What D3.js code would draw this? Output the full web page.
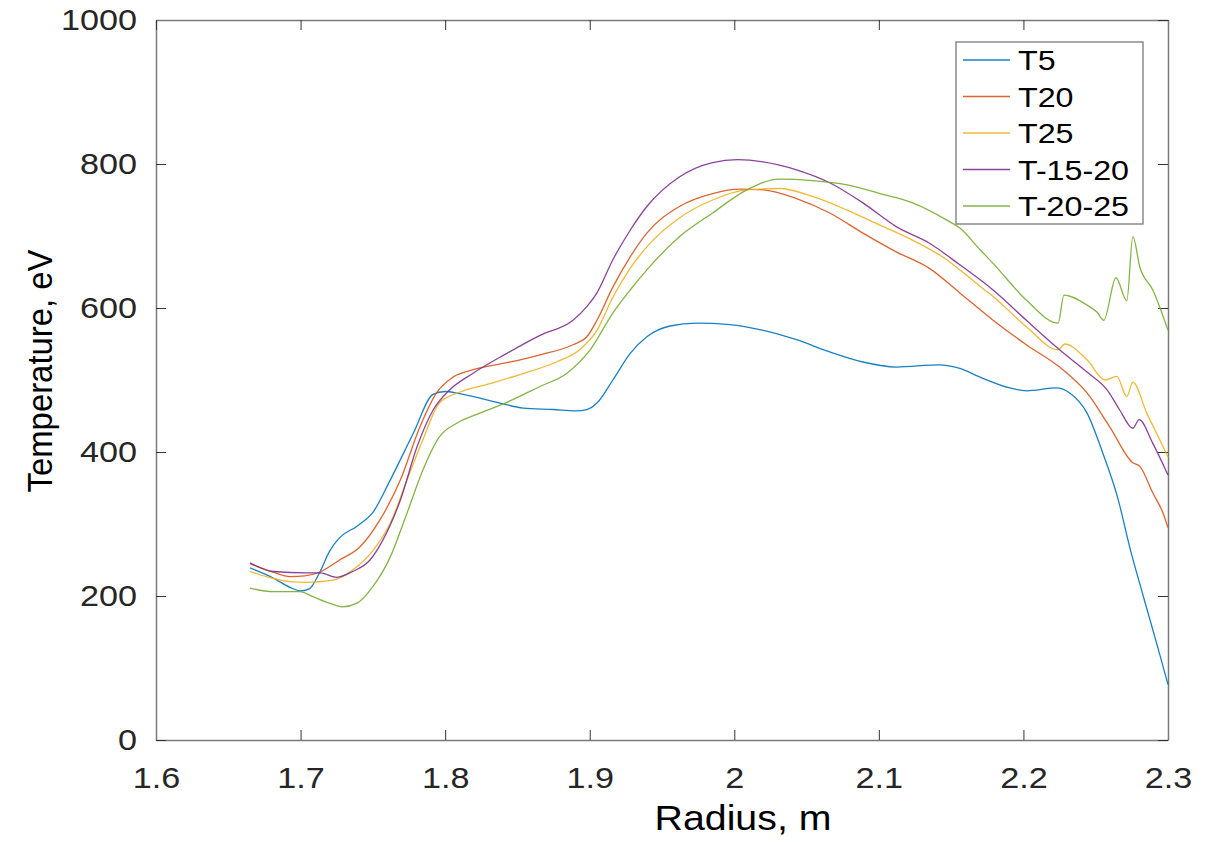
<!DOCTYPE html>
<html>
<head>
<meta charset="utf-8">
<script src="https://cdn.jsdelivr.net/npm/d3@7"></script>
<style>
  body { margin: 0; background: #fff; }
  svg { display: block; }
</style>
</head>
<body>
<div id="chart"></div>
<script>
// [radius (m), temperature (eV)]
var t5 = [[1.665,239],[1.681,225],[1.6927,212],[1.6996,207],[1.706,210],[1.713,232],[1.720,262],[1.727,281],
  [1.739,297],[1.750,316],[1.762,361],[1.778,426],[1.7916,480],[1.800,484],[1.810,481],[1.838,468],[1.854,461],
  [1.875,459],[1.890,457],[1.898,459],[1.905,468],[1.916,500],[1.928,537],[1.9395,560],[1.9555,575],[1.974,579],
  [1.997,577],[2.020,569],[2.043,556],[2.066,539],[2.089,525],[2.112,518],[2.142,521],[2.156,516],[2.170,504],
  [2.1906,489],[2.202,485],[2.223,489],[2.232,482],[2.244,454],[2.255,398],[2.265,338],[2.274,264],[2.283,199],
  [2.294,121],[2.300,77]];

var t20 = [[1.665,245],[1.681,233],[1.6927,227],[1.703,228],[1.713,233],[1.727,250],[1.741,268],[1.755,306],
  [1.769,361],[1.7826,435],[1.794,482],[1.8054,504],[1.819,514],[1.8427,524],[1.8656,535],[1.8884,549],[1.898,560],
  [1.905,583],[1.916,629],[1.928,671],[1.9395,704],[1.962,741],[1.985,759],[2.004,765],[2.020,764],[2.043,752],
  [2.066,732],[2.089,704],[2.112,678],[2.135,655],[2.156,621],[2.179,583],[2.202,549],[2.225,518],[2.244,482],
  [2.2597,435],[2.2757,385],[2.2805,380],[2.2895,343],[2.2966,315],[2.300,295]];

var t25 = [[1.665,234],[1.680,225],[1.693,220],[1.704,219],[1.7225,222],[1.736,236],[1.750,263],[1.762,301],
  [1.7736,361],[1.7846,417],[1.796,468],[1.810,483],[1.831,495],[1.854,509],[1.877,525],[1.893,542],[1.905,569],
  [1.916,615],[1.928,655],[1.9395,685],[1.962,725],[1.985,750],[2.0087,764],[2.0315,766],[2.054,755],[2.078,736],
  [2.1007,715],[2.1235,694],[2.147,667],[2.156,653],[2.170,630],[2.179,616],[2.202,574],[2.224,542],[2.2286,550],
  [2.244,528],[2.2565,500],[2.2646,505],[2.2715,477],[2.2757,497],[2.2853,454],[2.2943,417],[2.300,393]];

var t1520 = [[1.665,246],[1.681,234],[1.704,232],[1.7135,232],[1.725,226],[1.736,234],[1.748,250],[1.757,278],
  [1.769,333],[1.7805,407],[1.7916,458],[1.803,486],[1.819,509],[1.8427,537],[1.8656,562],[1.8884,583],[1.898,602],
  [1.905,621],[1.916,667],[1.928,708],[1.9395,741],[1.962,782],[1.985,802],[2.002,806],[2.020,803],[2.043,792],
  [2.066,774],[2.089,746],[2.112,713],[2.135,690],[2.156,660],[2.179,625],[2.202,583],[2.225,542],[2.244,511],
  [2.258,486],[2.2667,458],[2.2757,433],[2.280,445],[2.2895,412],[2.300,368]];

var t2025 = [[1.665,211],[1.681,206],[1.6996,206],[1.7086,199],[1.720,190],[1.729,185],[1.739,190],[1.750,213],
  [1.762,254],[1.7736,315],[1.7846,375],[1.796,421],[1.808,440],[1.824,454],[1.8427,469],[1.8656,491],[1.884,509],
  [1.900,541],[1.916,593],[1.928,625],[1.9395,653],[1.962,699],[1.985,732],[2.0087,764],[2.0315,779],[2.054,777],
  [2.078,771],[2.1007,759],[2.1235,746],[2.147,722],[2.156,711],[2.170,681],[2.179,662],[2.202,611],[2.224,579],
  [2.228,618],[2.244,604],[2.251,594],[2.2556,583],[2.264,642],[2.2715,610],[2.2757,699],[2.2805,657],[2.2895,625],
  [2.300,569]];

var seriesNames = ["T5", "T20", "T25", "T-15-20", "T-20-25"];
var seriesData = [t5, t20, t25, t1520, t2025];
var seriesColors = ["#0072BD", "#D95319", "#EDB120", "#7E2F8E", "#77AC30"];

var xTicks = [1.6, 1.7, 1.8, 1.9, 2, 2.1, 2.2, 2.3];
var yTicks = [0, 200, 400, 600, 800, 1000];

var width = 1220, height = 842;
var plot = { left: 156, right: 1168, top: 20, bottom: 740 };

var svg = d3.select("#chart").append("svg")
  .attr("width", width).attr("height", height);

svg.append("rect").attr("width", width).attr("height", height).attr("fill", "#fff");

var x = d3.scaleLinear().domain([1.6, 2.3]).range([plot.left, plot.right]);
var y = d3.scaleLinear().domain([0, 1000]).range([plot.bottom, plot.top]);

// stretch text horizontally (original figure was scaled wider)
function stretch(sel, k) {
  sel.each(function() {
    var w = this.getComputedTextLength();
    d3.select(this).attr("textLength", w * k).attr("lengthAdjust", "spacingAndGlyphs");
  });
}

function styleAxis(g) {
  g.select(".domain").attr("stroke", "#7a7a7a").attr("stroke-width", 1.5);
  g.selectAll(".tick line").attr("stroke", "#333").attr("stroke-width", 1);
  g.selectAll(".tick text")
    .attr("fill", "#262626")
    .style("font-family", "'Liberation Sans', Arial, Helvetica, sans-serif")
    .style("font-size", "30px");
}

var gx = svg.append("g").attr("transform", "translate(0," + plot.bottom + ")")
  .call(d3.axisBottom(x).tickValues(xTicks).tickFormat(d3.format("~g"))
    .tickSizeInner(-10).tickSizeOuter(0).tickPadding(27));
styleAxis(gx);

var gy = svg.append("g").attr("transform", "translate(" + plot.left + ",0)")
  .call(d3.axisLeft(y).tickValues(yTicks).tickFormat(d3.format("d"))
    .tickSizeInner(-10).tickSizeOuter(0).tickPadding(19));
styleAxis(gy);

var gxTop = svg.append("g").attr("transform", "translate(0," + plot.top + ")")
  .call(d3.axisTop(x).tickValues(xTicks).tickFormat("").tickSizeInner(-10).tickSizeOuter(0));
styleAxis(gxTop);

var gyRight = svg.append("g").attr("transform", "translate(" + plot.right + ",0)")
  .call(d3.axisRight(y).tickValues(yTicks).tickFormat("").tickSizeInner(-10).tickSizeOuter(0));
styleAxis(gyRight);

stretch(gx.selectAll(".tick text"), 1.14);
stretch(gy.selectAll(".tick text"), 1.14);

var line = d3.line()
  .x(function(d) { return x(d[0]); })
  .y(function(d) { return y(d[1]); })
  .curve(d3.curveMonotoneX);

svg.append("g").selectAll("path.series")
  .data(seriesData)
  .enter()
  .append("path")
  .attr("class", "series")
  .attr("d", line)
  .attr("fill", "none")
  .attr("stroke", function(d, i) { return seriesColors[i]; })
  .attr("stroke-width", 1.3)
  .attr("stroke-opacity", 0.9)
  .attr("stroke-linejoin", "round");

// legend
var legend = svg.append("g").attr("transform", "translate(956,42)");
legend.append("rect")
  .attr("width", 187).attr("height", 182)
  .attr("fill", "#fff").attr("stroke", "#8a8a8a").attr("stroke-width", 1.5);

var items = legend.selectAll("g.item")
  .data(seriesNames)
  .enter()
  .append("g")
  .attr("class", "item")
  .attr("transform", function(d, i) { return "translate(0," + (18 + i * 36.5) + ")"; });

items.append("line")
  .attr("x1", 7).attr("x2", 54).attr("y1", 0).attr("y2", 0)
  .attr("stroke", function(d, i) { return seriesColors[i]; })
  .attr("stroke-width", 1.3)
  .attr("stroke-opacity", 0.9);

var legendText = items.append("text")
  .attr("x", 62).attr("y", 0).attr("dy", "0.36em")
  .attr("fill", "#000")
  .style("font-family", "'Liberation Sans', Arial, Helvetica, sans-serif")
  .style("font-size", "28px")
  .text(function(d) { return d; });
stretch(legendText, 1.15);

// axis labels
svg.append("text")
  .attr("x", 743).attr("y", 830)
  .attr("text-anchor", "middle")
  .attr("fill", "#000")
  .style("font-family", "'Liberation Sans', Arial, sans-serif")
  .style("font-size", "35px")
  .attr("textLength", 177).attr("lengthAdjust", "spacingAndGlyphs")
  .text("Radius, m");

svg.append("text")
  .attr("transform", "translate(52,371) rotate(-90)")
  .attr("text-anchor", "middle")
  .attr("fill", "#000")
  .style("font-family", "'Liberation Sans', Arial, sans-serif")
  .style("font-size", "35px")
  .attr("textLength", 243).attr("lengthAdjust", "spacingAndGlyphs")
  .text("Temperature, eV");
</script>
</body>
</html>
